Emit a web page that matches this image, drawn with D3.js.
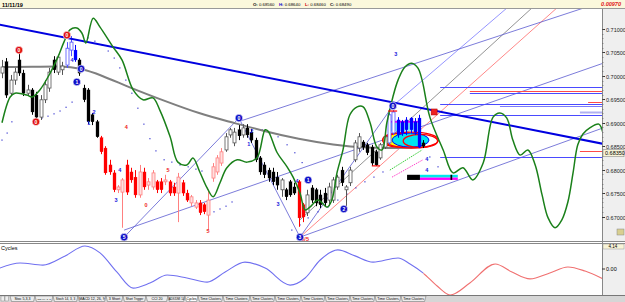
<!DOCTYPE html>
<html><head><meta charset="utf-8">
<script src="https://cdn.jsdelivr.net/npm/d3@7"></script>
<style>body{margin:0;background:#fff;} svg{display:block;font-family:"Liberation Sans",Arial,sans-serif;}</style>
</head><body><svg id="c" width="625" height="302"></svg>
<script>
// ---------------- DATA ----------------
const headerDate = "11/11/19";
const ohlcLabels = ["O: 0.68560","H: 0.68640","L: 0.68460","C: 0.68490"];
const spreadLabel = "0.00970";
const priceTicks = [0.670,0.675,0.680,0.685,0.690,0.695,0.700,0.705,0.710];
const lastPrice = 0.6835;
const lastPriceLabel = "0.68350";

const opens = [0.7006,0.7030,0.6963,0.6991,0.7034,0.7006,0.6963,0.6970,0.6959,0.6912,
0.6949,0.6974,0.7034,0.7008,0.7013,0.7023,0.7055,0.7055,0.7034,0.6974,
0.6970,0.6917,0.6902,0.6868,0.6846,0.6810,0.6793,0.6757,0.6752,0.6810,
0.6795,0.6784,0.6746,0.6795,0.6767,0.6763,0.6774,0.6774,0.6774,0.6774,
0.6763,0.6750,0.6772,0.6750,0.6729,0.6720,0.6729,0.6725,0.6703,0.6782,
0.6795,0.6814,0.6842,0.6874,0.6857,0.6885,0.6874,0.6889,0.6880,0.6863,
0.6825,0.6810,0.6799,0.6795,0.6784,0.6757,0.6757,0.6774,0.6763,0.6774,
0.6725,0.6708,0.6761,0.6757,0.6746,0.6750,0.6735,0.6735,0.6763,0.6799,
0.6757,0.6772,0.6821,0.6846,0.6859,0.6853,0.6848,0.6838,0.6825,0.6848,
0.6857,0.6878,0.6906,0.6902,0.6906,0.6910,0.6902,0.6910,0.6857];
const highs = [0.7034,0.7038,0.7002,0.7017,0.7055,0.7013,0.6981,0.6974,0.6966,0.6959,
0.6991,0.7017,0.7042,0.7045,0.7030,0.7072,0.7085,0.7066,0.7038,0.6981,
0.6974,0.6921,0.6906,0.6872,0.6850,0.6821,0.6799,0.6767,0.6782,0.6821,
0.6804,0.6799,0.6810,0.6804,0.6782,0.6799,0.6778,0.6782,0.6789,0.6778,
0.6772,0.6793,0.6778,0.6757,0.6746,0.6735,0.6735,0.6729,0.6757,0.6814,
0.6831,0.6846,0.6878,0.6889,0.6889,0.6895,0.6897,0.6897,0.6887,0.6868,
0.6829,0.6816,0.6804,0.6804,0.6795,0.6782,0.6761,0.6778,0.6772,0.6778,
0.6729,0.6757,0.6767,0.6761,0.6757,0.6761,0.6772,0.6784,0.6789,0.6806,
0.6767,0.6806,0.6863,0.6878,0.6863,0.6857,0.6853,0.6842,0.6857,0.6874,
0.6921,0.6927,0.6912,0.6906,0.6912,0.6912,0.6910,0.6917,0.6863];
const lows = [0.6995,0.6953,0.6957,0.6981,0.7000,0.6957,0.6959,0.6917,0.6906,0.6906,
0.6942,0.6966,0.7006,0.7002,0.7002,0.7017,0.7042,0.7030,0.7000,0.6944,
0.6897,0.6895,0.6868,0.6833,0.6789,0.6789,0.6752,0.6750,0.6676,0.6746,
0.6772,0.6740,0.6740,0.6757,0.6757,0.6757,0.6750,0.6750,0.6767,0.6744,
0.6744,0.6688,0.6744,0.6731,0.6722,0.6716,0.6703,0.6705,0.6671,0.6774,
0.6789,0.6808,0.6838,0.6868,0.6850,0.6863,0.6868,0.6868,0.6857,0.6816,
0.6789,0.6782,0.6774,0.6767,0.6757,0.6742,0.6735,0.6742,0.6746,0.6678,
0.6688,0.6701,0.6729,0.6722,0.6718,0.6722,0.6722,0.6729,0.6757,0.6765,
0.6720,0.6765,0.6816,0.6838,0.6842,0.6831,0.6808,0.6808,0.6821,0.6844,
0.6853,0.6874,0.6868,0.6872,0.6874,0.6878,0.6874,0.6846,0.6846];
const closes = [0.7019,0.6959,0.6991,0.7008,0.7006,0.6963,0.6970,0.6923,0.6912,0.6949,
0.6981,0.7008,0.7013,0.7040,0.7021,0.7059,0.7072,0.7034,0.7006,0.6949,
0.6902,0.6902,0.6870,0.6838,0.6793,0.6795,0.6757,0.6763,0.6778,0.6752,
0.6778,0.6746,0.6795,0.6763,0.6774,0.6793,0.6757,0.6757,0.6778,0.6750,
0.6750,0.6784,0.6750,0.6735,0.6742,0.6729,0.6708,0.6710,0.6735,0.6806,
0.6825,0.6838,0.6870,0.6885,0.6880,0.6872,0.6889,0.6874,0.6863,0.6821,
0.6795,0.6789,0.6782,0.6774,0.6767,0.6778,0.6742,0.6746,0.6750,0.6697,
0.6699,0.6746,0.6735,0.6729,0.6725,0.6729,0.6763,0.6778,0.6784,0.6772,
0.6763,0.6799,0.6857,0.6870,0.6848,0.6836,0.6814,0.6810,0.6853,0.6870,
0.6917,0.6923,0.6874,0.6878,0.6885,0.6885,0.6880,0.6848,0.6850];
// colour regime of the candles: starting bar and regime
const regimeStarts = [0, 15, 18, 23, 52, 69, 71, 90, 98];
const regimeKinds  = ["k","b","k","r","k","r","k","b","k"];

// moving average (grey)
const maBars   = [0, 7, 14, 18, 23, 30, 38, 46, 53, 61, 69, 77, 85, 92, 98];
const maPrices = [0.7019,0.7019,0.7021,0.7017,0.7002,0.6974,0.6946,0.6919,0.6902,0.6882,0.6865,0.6853,0.6846,0.6846,0.6848];

// green oscillator overlay
const greenBars = [0,1.9,3.0,5.8,7.0,8.8,11.2,13.0,14.4,15.8,17.4,18.6,19.5,21.2,22.8,25.8,27.9,30.5,32.8,35.1,36.7,39.1,40.9,43.0,44.4,46.0,47.7,49.1,50.7,52.3,54.7,57.0,59.3,61.2,61.9,64.0,66.3,67.7,69.3,70.5,71.6,73.5,75.6,76.7,77.9,79.3,80.9,82.6,84.0,85.6,87.2,88.4,89.5,90.9,92.1,93.7,95.3,96.7,97.7,99.5,102.6,104.9,107.2,109.5,111.9,114.2,115.8,117.4,118.8,120.5,122.3,124.0,125.6,127.0,128.6,130.2,131.6,132.8,133.9,135.1,136.7,138.8,139.7];
const greenPrices = [0.6900,0.6955,0.6963,0.6959,0.6955,0.6970,0.7006,0.7040,0.7072,0.7098,0.7102,0.7091,0.7070,0.7123,0.7104,0.7062,0.7034,0.6970,0.6949,0.6953,0.6927,0.6870,0.6816,0.6810,0.6825,0.6795,0.6761,0.6742,0.6772,0.6804,0.6821,0.6816,0.6825,0.6885,0.6882,0.6836,0.6806,0.6784,0.6750,0.6714,0.6720,0.6735,0.6720,0.6735,0.6793,0.6842,0.6917,0.6934,0.6934,0.6900,0.6848,0.6842,0.6900,0.6955,0.6991,0.7019,0.7027,0.7017,0.6991,0.6912,0.6842,0.6793,0.6804,0.6778,0.6814,0.6912,0.6921,0.6910,0.6863,0.6831,0.6842,0.6810,0.6746,0.6697,0.6676,0.6693,0.6731,0.6793,0.6853,0.6876,0.6889,0.6897,0.6880];

// trend lines: [bar1, price1, bar2, price2]
const mainTrend = [-0.5, 0.7109, 139.8, 0.6855];
const thinLines = [
  [28.4,0.6671,139.8,0.7027],
  [54.9,0.6902,136.0,0.7147],
  [69.3,0.6656,139.8,0.6889],
  [28.4,0.6656,55.1,0.6910],
  [55.1,0.6910,69.3,0.6656],
  [69.3,0.6656,90.9,0.6936]
];
const steepBlue = [90.9,0.6936,117.7,0.7147];
const steepGray = [69.3,0.6693,123.5,0.7147];
const steepRed  = [69.3,0.6656,129.3,0.7147];
const dashGreen = [90.2,0.6799,97.7,0.6842];
const dashPink  = [90.7,0.6784,97.9,0.6821];

// horizontal levels on the right: [startBar, price, colour]
const levelStarts = [101.9,108.8,108.8,136.3,101.9,115.8,134.4,101.9,134.4,101.9];
const levelPrices = [0.6976,0.6968,0.6963,0.6944,0.6940,0.6936,0.6923,0.6917,0.6840,0.6827];
const levelColors = ["#4a4aff","#ff4a4a","#4a4aff","#ff4a4a","#4a4aff","#7a7aff","#b0b0f0","#4a4aff","#ff4a4a","#4a4aff"];

// pivot markers
const markerBars   = [3.95,15.1,7.9,18.4,17.4,28.4,55.1,71.2,79.5,69.3,90.9];
const markerPrices = [0.7055,0.7087,0.6902,0.7015,0.6987,0.6656,0.6910,0.6778,0.6716,0.6656,0.6936];
const markerColors = ["r","r","r","b","b","b","b","b","b","b","b"];
const markerTexts  = ["0","0","0","0","1","5","0","1","2","3","0"];
const squareBar = 100.5, squarePrice = 0.6923;

// wave count labels
const countBars   = [16.3,21.4,20.2,27.4,26.5,28.9,38.6,33.5,47.9,58.1,57.4,68.6,64.2,91.6,98.8,98.8,70.5];
const countPrices = [0.7034,0.6923,0.6900,0.6799,0.6735,0.6891,0.6799,0.6725,0.6669,0.6882,0.6855,0.6776,0.6727,0.7047,0.6823,0.6799,0.6652];
const countTexts  = ["4","2","1","4","3","4","5","0","5","2","1","4","3","3","4","4","5/5"];
const countColors = ["b","b","b","b","b","r","r","r","r","b","b","b","b","b","b","b","r"];

// parabolic dots
const dotBars = [0,1.2,2.3,9.3,10.7,12.1,13.5,14.9,16.3,20,21.6,23.3,24.7,26.1,27.4,28.8,30.2,31.6,33,34.4,35.8,37.7,39.5,41.4,43.3,45.1,46.5,49.3,50.7,52.1,53.5,60.5,62.3,64.2,66.3,68.1,69.8,67.4,69.3,71.2,73.5,75.8,78.1,80.2,82.3,84.4,86.5,88.6,99.5,101.4,103.3];
const dotPrices = [0.6863,0.6878,0.6902,0.6910,0.6914,0.6919,0.6925,0.6933,0.6944,0.7081,0.7074,0.7066,0.7053,0.7038,0.7017,0.6991,0.6963,0.6931,0.6897,0.6866,0.6840,0.6821,0.6816,0.6810,0.6806,0.6801,0.6797,0.6710,0.6716,0.6722,0.6731,0.6885,0.6878,0.6870,0.6853,0.6836,0.6815,0.6671,0.6682,0.6697,0.6710,0.6720,0.6735,0.6748,0.6761,0.6774,0.6784,0.6795,0.6827,0.6806,0.6787];

// ellipses: [centerBar, centerPrice, radiusBars, radiusPrice]
const ellYellow = [92.1,0.6863,3.6,0.0015];
const ellCyan   = [95.0,0.6863,4.3,0.0015];
const ellRed1   = [95.2,0.6863,6.3,0.0017];
const ellRed2   = [97.3,0.6861,4.0,0.0014];

// cycles sub-panel
const cycleBars = [-0.5,4.2,9.5,14.7,19.3,22.8,26.7,30.5,34.4,38.4,43.0,47.7,51.9,56.5,61.2,67.0,70.5,74.0,78.1,82.1,86.3,92.1,94.9,97.9,101.2,104.2,108.8,114.7,118.6,122.8,127.4,131.6,135.6,139.8];
const cycleValues = [0.04,0.26,0.17,0.57,1.0,0.70,-0.13,-0.83,-0.61,-0.26,-0.39,-0.57,-0.13,0.30,0.04,-0.70,-0.39,0.39,0.83,0.57,0.30,0.48,0.22,-0.17,-0.74,-1.13,-0.61,0.22,-0.13,-0.43,-0.17,0.09,-0.09,-0.43];
const cycleSplitBar = 98;
const cycleTopLabel = "4.14";
const cycleZeroLabel = "0.00";

const tabNames = ["Stoc 5,3,3","RSI 14, 3, 3","Stoch 14, 3, 3","MACD 12, 26, 9","3 Short","Short Trigger","CCI 20","ADX/DMI 14","Cycles","Time Clusters","Time Clusters","Time Clusters","Time Clusters","Time Clusters","Time Clusters","Time Clusters","Time Clusters","Time Clusters"];
const tabWidths = [25,18,25,28,17,23,22,17,13,25,27,25,26,24,25,25,26,25];

// ---------------- DRAW ----------------
const svg = d3.select("#c");
const xS = d3.scaleLinear().domain([0,140]).range([2,604]);
const yS = d3.scaleLinear().domain([0.67,0.71]).range([216.5,29]);
const cS = d3.scaleLinear().domain([-1,1]).range([292,246]);

const defs = svg.append("defs");
defs.append("clipPath").attr("id","mainClip").append("rect").attr("x",0).attr("y",9).attr("width",602).attr("height",232);
defs.append("clipPath").attr("id","lowClip").append("rect").attr("x",0).attr("y",244).attr("width",602).attr("height",51);

// header
svg.append("rect").attr("x",0).attr("y",0).attr("width",625).attr("height",8.5).attr("fill","#fbf8dc");
svg.append("line").attr("x1",0).attr("x2",625).attr("y1",8.5).attr("y2",8.5).attr("stroke","#999");
svg.append("text").attr("x",2).attr("y",6.5).attr("font-size",5.5).attr("font-weight","bold").text(headerDate);
const hx = [253,279,305,330], hc = ["#000","#0000cc","#cc0000","#000"];
ohlcLabels.forEach((t,i)=>{
  const g = svg.append("text").attr("x",hx[i]).attr("y",6.3).attr("font-size",4.3);
  g.append("tspan").attr("fill",hc[i]).attr("font-weight","bold").text(t.slice(0,2));
  g.append("tspan").attr("fill","#000").text(t.slice(2));
});
svg.append("text").attr("x",621).attr("y",6.3).attr("text-anchor","end").attr("font-size",5.5).attr("font-weight","bold").attr("font-style","italic").attr("fill","#e02020").text(spreadLabel);

// axis panels
svg.append("rect").attr("x",602).attr("y",9).attr("width",23).attr("height",232).attr("fill","#efefef");
svg.append("rect").attr("x",602).attr("y",244).attr("width",23).attr("height",51).attr("fill","#efefef");
svg.append("line").attr("x1",602.5).attr("x2",602.5).attr("y1",9).attr("y2",295).attr("stroke","#888");
svg.append("line").attr("x1",0).attr("x2",625).attr("y1",241.5).attr("y2",241.5).attr("stroke","#888");
svg.append("line").attr("x1",0).attr("x2",625).attr("y1",243.5).attr("y2",243.5).attr("stroke","#888");

const main = svg.append("g").attr("clip-path","url(#mainClip)");
const seg = (g,p,color,w,dash) => g.append("line").attr("x1",xS(p[0])).attr("y1",yS(p[1])).attr("x2",xS(p[2])).attr("y2",yS(p[3]))
   .attr("stroke",color).attr("stroke-width",w).attr("stroke-dasharray",dash||null);

// steep fan lines and thin channels
seg(main,steepBlue,"#7a7aff",0.8);
seg(main,steepGray,"#777",0.8);
seg(main,steepRed,"#ff6a6a",0.8);
thinLines.forEach(p=>seg(main,p,"#5a5ad0",0.8));

// levels
levelPrices.forEach((p,i)=>{
  main.append("line").attr("x1",xS(levelStarts[i])).attr("x2",602).attr("y1",Math.round(yS(p))+0.5).attr("y2",Math.round(yS(p))+0.5)
    .attr("stroke",levelColors[i]).attr("stroke-width",i===6?2:1);
});

// dots
main.selectAll("rect.dot").data(dotBars).join("rect").attr("class","dot")
  .attr("x",(d)=>xS(d)-0.6).attr("y",(d,i)=>yS(dotPrices[i])-0.6).attr("width",1.2).attr("height",1.2).attr("fill","#3a3ad0");

// moving average
main.append("path").datum(maBars.map((b,i)=>[b,maPrices[i]]))
  .attr("d",d3.line().x(d=>xS(d[0])).y(d=>yS(d[1])).curve(d3.curveBasis))
  .attr("fill","none").attr("stroke","#7f7f7f").attr("stroke-width",2);

// shaded boxes near the last bars
const rectD = (b1,p1,b2,p2,fill)=>main.append("rect").attr("x",xS(b1)).attr("y",yS(p1)).attr("width",xS(b2)-xS(b1)).attr("height",yS(p2)-yS(p1)).attr("fill",fill);
rectD(89.8,0.6900,97.2,0.6882,"#7ff5f5");
rectD(89.8,0.6904,97.2,0.6900,"#ff00ff");

// ellipses
const ell = (e,fill,stroke,w)=>main.append("ellipse").attr("cx",xS(e[0])).attr("cy",yS(e[1]))
   .attr("rx",xS(e[0]+e[2])-xS(e[0])).attr("ry",yS(e[1]-e[3])-yS(e[1])).attr("fill",fill).attr("stroke",stroke).attr("stroke-width",w);
ell(ellYellow,"#ffff00","#ff0000",1.3);
ell(ellCyan,"#00e5f0","#0000ff",1);
ell(ellRed1,"none","#ff0000",1.3);
ell(ellRed2,"none","#ff0000",1.3);

// candles
const kindOf = i => { let k = regimeKinds[0]; regimeStarts.forEach((s,j)=>{ if(i>=s) k = regimeKinds[j]; }); return k; };
const pal = {k:{up:"#555",upFill:"#fff",dn:"#000"}, b:{up:"#5050ff",upFill:"#fff",dn:"#0000ff"}, r:{up:"#ff8080",upFill:"#ffe0e0",dn:"#ff0000"}};
const cg = main.append("g");
opens.forEach((o,i)=>{
  const k = kindOf(i), c = closes[i], up = c>=o, cx = Math.round(xS(i))+0.5;
  const col = up? pal[k].up : pal[k].dn;
  cg.append("line").attr("x1",cx).attr("x2",cx).attr("y1",yS(highs[i])).attr("y2",yS(lows[i])).attr("stroke",col).attr("stroke-width",1);
  const top = yS(Math.max(o,c)), h = Math.max(1,Math.abs(yS(o)-yS(c)));
  cg.append("rect").attr("x",cx-1.5).attr("y",top).attr("width",3).attr("height",h)
    .attr("fill",up?pal[k].upFill:col).attr("stroke",col).attr("stroke-width",up?0.8:0.3);
});

// lower coloured bar
rectD(94.2,0.6789,97.2,0.6778,"#000");
rectD(97.2,0.6789,106.0,0.6783,"#00eaea");
rectD(97.2,0.6783,106.0,0.6778,"#ff00ff");
rectD(104.3,0.6789,104.7,0.6778,"#000");

// dashed diagonals
seg(main,dashGreen,"#33cc33",1,"1.5,1");
seg(main,dashPink,"#ff44cc",1,"1.5,1");

// main trend line
seg(main,mainTrend,"#0000e0",2);

// green oscillator
main.append("path").datum(greenBars.map((b,i)=>[b,greenPrices[i]]))
  .attr("d",d3.line().x(d=>xS(d[0])).y(d=>yS(d[1])).curve(d3.curveCatmullRom))
  .attr("fill","none").attr("stroke","#1a801a").attr("stroke-width",1.5);

// red ticks
seg(main,[86.0,0.6808,87.9,0.6808],"#ff0000",1.2);
seg(main,[89.8,0.6925,91.9,0.6925],"#ff0000",1.2);

// count labels
countTexts.forEach((t,i)=>{
  main.append("text").attr("x",xS(countBars[i])).attr("y",yS(countPrices[i])+2).attr("text-anchor","middle")
    .attr("font-size",5.5).attr("font-weight","bold").attr("fill",countColors[i]==="b"?"#2222dd":"#ee2222").text(t);
});

// markers
markerBars.forEach((b,i)=>{
  const cx = xS(b), cy = yS(markerPrices[i]);
  main.append("circle").attr("cx",cx).attr("cy",cy).attr("r",3.8).attr("fill",markerColors[i]==="b"?"#1010c8":"#e01010").attr("stroke","#fff").attr("stroke-width",0.6);
  main.append("text").attr("x",cx).attr("y",cy+1.8).attr("text-anchor","middle").attr("font-size",5).attr("font-weight","bold").attr("fill","#fff").text(markerTexts[i]);
});
main.append("rect").attr("x",xS(squareBar)-3).attr("y",yS(squarePrice)-3).attr("width",6).attr("height",6).attr("fill","#ee2222").attr("stroke","#aa0000").attr("stroke-width",0.5);

// price axis
const ag = svg.append("g");
priceTicks.forEach(p=>{
  const yy = Math.round(yS(p))+0.5;
  ag.append("line").attr("x1",602).attr("x2",605).attr("y1",yy).attr("y2",yy).attr("stroke","#333");
  ag.append("text").attr("x",606).attr("y",yy+2).attr("font-size",5.5).attr("fill","#222").text(d3.format(".5f")(p));
});
d3.range(0.671,0.7101,0.001).forEach(p=>{
  const yy = Math.round(yS(p))+0.5;
  ag.append("line").attr("x1",602).attr("x2",603.5).attr("y1",yy).attr("y2",yy).attr("stroke","#666").attr("stroke-width",0.6);
});
ag.append("rect").attr("x",603).attr("y",yS(lastPrice)-3.5).attr("width",21).attr("height",7).attr("fill","#f8f4d8").attr("stroke","#888").attr("stroke-width",0.6);
ag.append("text").attr("x",605).attr("y",yS(lastPrice)+2).attr("font-size",5.5).attr("fill","#000").text(lastPriceLabel);
svg.append("rect").attr("x",617).attr("y",229).attr("width",7).attr("height",6).attr("fill","#d8cf90").attr("stroke","#888").attr("stroke-width",0.5);

// lower cycles panel
const low = svg.append("g").attr("clip-path","url(#lowClip)");
svg.append("text").attr("x",1).attr("y",250).attr("font-size",5.5).text("Cycles");
const cyPts = cycleBars.map((b,i)=>[b,cycleValues[i]]);
const cLine = d3.line().x(d=>xS(d[0])).y(d=>cS(d[1])).curve(d3.curveMonotoneX);
defs.append("clipPath").attr("id","cLeft").append("rect").attr("x",0).attr("y",244).attr("width",xS(cycleSplitBar)).attr("height",51);
defs.append("clipPath").attr("id","cRight").append("rect").attr("x",xS(cycleSplitBar)).attr("y",244).attr("width",602-xS(cycleSplitBar)).attr("height",51);
low.append("path").attr("d",cLine(cyPts)).attr("fill","none").attr("stroke","#7070f0").attr("stroke-width",1.1).attr("clip-path","url(#cLeft)");
low.append("path").attr("d",cLine(cyPts)).attr("fill","none").attr("stroke","#f07070").attr("stroke-width",1.1).attr("clip-path","url(#cRight)");
svg.append("rect").attr("x",603).attr("y",244).attr("width",21).attr("height",5).attr("fill","#f8f4d8").attr("stroke","#999").attr("stroke-width",0.5);
svg.append("text").attr("x",613).attr("y",248).attr("text-anchor","middle").attr("font-size",4.5).text(cycleTopLabel);
svg.append("line").attr("x1",602).attr("x2",605).attr("y1",cS(0)).attr("y2",cS(0)).attr("stroke","#333");
svg.append("text").attr("x",606).attr("y",cS(0)+2).attr("font-size",5.5).text(cycleZeroLabel);

// tab bar
svg.append("rect").attr("x",0).attr("y",295).attr("width",625).attr("height",7).attr("fill","#d6d6d6");
svg.append("line").attr("x1",0).attr("x2",625).attr("y1",295.5).attr("y2",295.5).attr("stroke","#777");
svg.append("rect").attr("x",1).attr("y",296).attr("width",3.5).attr("height",5).attr("fill","#eee").attr("stroke","#777").attr("stroke-width",0.4);
svg.append("rect").attr("x",5).attr("y",296).attr("width",3.5).attr("height",5).attr("fill","#eee").attr("stroke","#777").attr("stroke-width",0.4);
let tx = 10;
tabNames.forEach((t,i)=>{
  const w = tabWidths[i];
  svg.append("path").attr("d",`M${tx},296 L${tx+w},296 L${tx+w-1.5},301.5 L${tx+1.5},301.5 Z`)
    .attr("fill", t==="Cycles"?"#ffffff":"#ececec").attr("stroke","#666").attr("stroke-width",0.5);
  const fs = Math.min(3.6, (w-3)/(t.length*0.5));
  svg.append("text").attr("x",tx+w/2).attr("y",300.4).attr("text-anchor","middle").attr("font-size",fs).text(t);
  tx += w;
});
</script></body></html>
